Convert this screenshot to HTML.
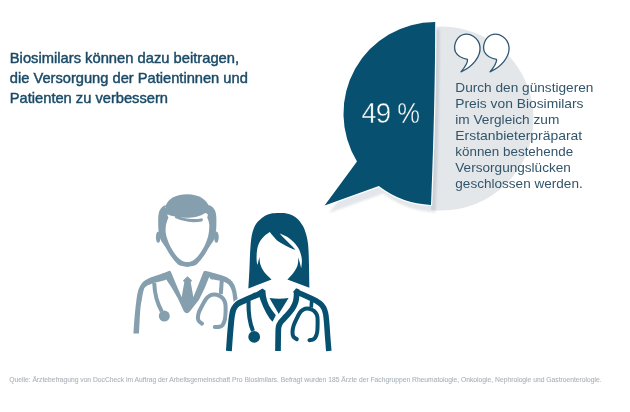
<!DOCTYPE html>
<html><head><meta charset="utf-8">
<style>
html,body{margin:0;padding:0;background:#fff;}
body{width:630px;height:412px;overflow:hidden;position:relative;}
svg{position:absolute;left:0;top:0;}
text{font-family:"Liberation Sans",sans-serif;}
</style></head>
<body>
<svg width="630" height="412" viewBox="0 0 630 412">
<defs>
  <filter id="sh" x="-20%" y="-20%" width="140%" height="140%">
    <feGaussianBlur stdDeviation="1.1"/>
  </filter>
  <clipPath id="rightof">
    <path d="M435.2 0 L630 0 L630 412 L431 412 L431 205 Q435.2 100 435.2 22 Z"/>
  </clipPath>
  <path id="bub" d="M435.2 22 A91.5 91.5 0 0 0 357 161.4 L324.6 205.5 L378.8 186 A91.5 91.5 0 0 0 431 204.9 Q435.2 100 435.2 22 Z"/>
</defs>

<!-- grey circle -->
<circle cx="441.5" cy="118.5" r="92" fill="#e4e7ea" clip-path="url(#rightof)"/>
<!-- shadow of dark bubble -->
<use href="#bub" transform="translate(4.5,7.5)" fill="#e3e6ea" filter="url(#sh)" style="mix-blend-mode:multiply"/>
<!-- white rim -->
<use href="#bub" fill="none" stroke="#fff" stroke-width="2.4" stroke-linejoin="round"/>
<!-- dark bubble -->
<use href="#bub" fill="#07506f"/>

<!-- 49 % -->
<g font-size="29.2" fill="#fff" stroke="#07506f" stroke-width="0.45">
  <text transform="translate(361.5 122.5) scale(0.925 1)">4</text>
  <text transform="translate(375.8 122.5) scale(0.95 1)">9</text>
  <text transform="translate(397.3 122.5) scale(0.875 1)">%</text>
</g>

<!-- quotes -->
<g fill="#fff" stroke="#2f5670" stroke-width="1.3" stroke-linejoin="round">
  <path id="q" d="M467.5 59.3 C463 58.5 458 57 455.5 52 C453 46 456 38 462 35 C470 32 479 38 480 47 C481 57 472 67 461 71.8 C465 67 468 63 467.5 59.3 Z"/>
  <use href="#q" x="29" y="0"/>
</g>

<!-- right text -->
<g font-size="13.6" fill="#31556a">
  <text x="455.3" y="92.30" textLength="138.1" lengthAdjust="spacingAndGlyphs">Durch den günstigeren</text>
  <text x="455.3" y="108.18" textLength="128.2" lengthAdjust="spacingAndGlyphs">Preis von Biosimilars</text>
  <text x="455.3" y="124.07" textLength="104" lengthAdjust="spacingAndGlyphs">im Vergleich zum</text>
  <text x="455.3" y="139.95" textLength="126.9" lengthAdjust="spacingAndGlyphs">Erstanbieterpräparat</text>
  <text x="455.3" y="155.83" textLength="117.8" lengthAdjust="spacingAndGlyphs">können bestehende</text>
  <text x="455.3" y="171.71" textLength="115.6" lengthAdjust="spacingAndGlyphs">Versorgungslücken</text>
  <text x="455.3" y="187.60" textLength="127.4" lengthAdjust="spacingAndGlyphs">geschlossen werden.</text>
</g>

<!-- title -->
<g font-size="14.5" fill="#1b4b67" stroke="#1b4b67" stroke-width="0.45">
  <text x="9.8" y="62.7" textLength="229.3" lengthAdjust="spacingAndGlyphs">Biosimilars können dazu beitragen,</text>
  <text x="9.8" y="82.8" textLength="238" lengthAdjust="spacingAndGlyphs">die Versorgung der Patientinnen und</text>
  <text x="9.8" y="102.7" textLength="158.2" lengthAdjust="spacingAndGlyphs">Patienten zu verbessern</text>
</g>

<!-- MALE doctor -->
<g fill="#859fae">
  <path d="M169.00 209.00 C162.40 208.37 167.13 205.55 166.00 205.20 C164.87 204.85 163.27 206.00 162.20 206.90 C161.13 207.80 160.23 209.17 159.60 210.60 C158.97 212.03 158.63 213.60 158.40 215.50 C158.17 217.40 158.17 219.42 158.20 222.00 C158.23 224.58 158.17 228.00 158.60 231.00 C159.03 234.00 159.70 237.38 160.80 240.00 C161.90 242.62 163.58 244.12 165.20 246.70 C166.82 249.28 168.45 252.62 170.50 255.50 C172.55 258.38 175.55 262.23 177.50 264.00 C179.45 265.77 180.57 265.62 182.20 266.10 C183.83 266.58 185.60 266.90 187.30 266.90 C189.00 266.90 190.77 266.58 192.40 266.10 C194.03 265.62 195.15 265.77 197.10 264.00 C199.05 262.23 202.05 258.38 204.10 255.50 C206.15 252.62 207.78 249.28 209.40 246.70 C211.02 244.12 212.70 242.62 213.80 240.00 C214.90 237.38 215.57 234.00 216.00 231.00 C216.43 228.00 216.37 224.58 216.40 222.00 C216.43 219.42 216.43 217.40 216.20 215.50 C215.97 213.60 215.63 212.03 215.00 210.60 C214.37 209.17 213.47 207.80 212.40 206.90 C211.33 206.00 209.73 204.85 208.60 205.20 C207.47 205.55 212.20 208.37 205.60 209.00 C199.00 209.63 175.60 209.63 169.00 209.00 Z"/>
  <path fill="#fff" d="M170.50 213.50 C164.50 214.33 169.02 216.25 168.30 218.00 C167.58 219.75 166.65 221.83 166.20 224.00 C165.75 226.17 165.47 228.67 165.60 231.00 C165.73 233.33 166.18 235.38 167.00 238.00 C167.82 240.62 168.97 243.78 170.50 246.70 C172.03 249.62 174.52 253.32 176.20 255.50 C177.88 257.68 179.33 258.80 180.60 259.80 C181.87 260.80 182.68 261.13 183.80 261.50 C184.92 261.87 186.13 262.00 187.30 262.00 C188.47 262.00 189.68 261.87 190.80 261.50 C191.92 261.13 192.73 260.80 194.00 259.80 C195.27 258.80 196.72 257.68 198.40 255.50 C200.08 253.32 202.57 249.62 204.10 246.70 C205.63 243.78 206.78 240.62 207.60 238.00 C208.42 235.38 208.73 233.33 209.00 231.00 C209.27 228.67 209.47 226.17 209.20 224.00 C208.93 221.83 208.22 219.83 207.40 218.00 C206.58 216.17 210.45 213.75 204.30 213.00 C198.15 212.25 176.50 212.67 170.50 213.50 Z"/>
  <path d="M165.5 206.2 C168 198.5 176.5 194.3 187.3 194.3 C198.5 194.3 206.5 199 210 208.2 L205.6 212.8 C200 216.6 193 217.8 187 217.8 C180 217.8 172 216.5 167 214 Z"/>
  <ellipse cx="158.2" cy="237.2" rx="2.3" ry="5.6"/>
  <ellipse cx="216.4" cy="237.2" rx="2.3" ry="5.6"/>
  <path d="M176.5 217 C183 220.4 194 221.4 201.3 219.9" fill="none" stroke="#859fae" stroke-width="3.1" stroke-linecap="round"/>
  <path d="M133.4 333.5 C133.60 330.75 134.13 322.25 134.60 317.00 C135.07 311.75 135.67 306.17 136.20 302.00 C136.73 297.83 137.10 294.75 137.80 292.00 C138.50 289.25 139.28 287.37 140.40 285.50 C141.52 283.63 142.57 282.22 144.50 280.80 C146.43 279.38 149.25 278.13 152.00 277.00 C154.75 275.87 158.07 275.03 161.00 274.00 C163.93 272.97 168.17 271.33 169.60 270.80 L170.8 271.6 L176 284 L181.7 297.2 L182.6 291.5 L184.3 282.4 L183 280.5 L187.5 276.3 L192 280.5 L190.7 282.4 L192.4 291.5 L193.3 297.2 L198.5 284.5 L203.6 271.6 L205.3 270.8 C206.87 271.22 211.52 272.40 214.70 273.30 C217.88 274.20 221.82 275.15 224.40 276.20 C226.98 277.25 228.58 278.23 230.20 279.60 C231.82 280.97 233.12 282.62 234.10 284.40 C235.08 286.18 235.53 288.03 236.10 290.30 C236.67 292.57 237.10 295.88 237.50 298.00 C237.90 300.12 238.17 300.67 238.50 303.00 C238.83 305.33 239.17 308.83 239.50 312.00 C239.83 315.17 240.33 320.33 240.50 322.00 L235.5 322 C235.35 320.00 234.83 312.87 234.60 310.00 C234.37 307.13 234.33 306.63 234.10 304.80 C233.87 302.97 233.52 301.10 233.20 299.00 C232.88 296.90 232.70 294.22 232.20 292.20 C231.70 290.18 231.17 288.43 230.20 286.90 C229.23 285.37 228.17 284.05 226.40 283.00 C224.63 281.95 222.25 281.23 219.60 280.60 C216.95 279.97 212.02 279.43 210.50 279.20 L209.3 276.8 L204.5 288.5 L199 299.7 L190 311.2 Q186.9 315.2 183.8 311.2 L177.9 298.4 L172 288.3 L166.3 279.4 C165.25 279.75 162.45 280.78 160.00 281.50 C157.55 282.22 153.93 282.88 151.60 283.70 C149.27 284.52 147.30 285.40 146.00 286.40 C144.70 287.40 144.48 287.62 143.80 289.70 C143.12 291.78 142.48 295.52 141.90 298.90 C141.32 302.28 140.78 304.23 140.30 310.00 C139.82 315.77 139.22 329.58 139.00 333.50 Z"/>
  <!-- stethoscope left -->
  <path fill="none" stroke="#859fae" stroke-width="4" d="M154.2 283 C154.6 293 156.5 302 161.8 311.5"/>
  <circle cx="164.3" cy="316.1" r="5.5"/>
  <!-- stethoscope right -->
  <path fill="none" stroke="#859fae" stroke-width="4" d="M221.8 280 L220.8 294"/>
  <path fill="none" stroke="#859fae" stroke-width="4" stroke-linecap="round" d="M202.00 323.60 C201.47 323.17 199.48 322.02 198.80 321.00 C198.12 319.98 197.87 319.00 197.90 317.50 C197.93 316.00 198.23 314.08 199.00 312.00 C199.77 309.92 201.33 307.17 202.50 305.00 C203.67 302.83 204.75 300.57 206.00 299.00 C207.25 297.43 208.65 296.33 210.00 295.60 C211.35 294.87 212.60 294.60 214.10 294.60 C215.60 294.60 217.52 294.93 219.00 295.60 C220.48 296.27 221.95 297.28 223.00 298.60 C224.05 299.92 224.87 301.43 225.30 303.50 C225.73 305.57 225.65 308.42 225.60 311.00 C225.55 313.58 225.47 316.70 225.00 319.00 C224.53 321.30 223.72 323.50 222.80 324.80 C221.88 326.10 220.83 326.43 219.50 326.80 C218.17 327.17 215.58 326.97 214.80 327.00"/>
</g>

<!-- FEMALE doctor -->
<path d="M227 351 L229 318 C231.5 308 234 303 240 300 L262 289 L297 289 L319 300 C325 303 328 308 328.5 318 L329.5 351 Z" fill="#fff"/>
<path d="M248.40 288.40 C248.57 285.33 249.13 275.57 249.40 270.00 C249.67 264.43 249.83 258.67 250.00 255.00 C250.17 251.33 250.22 250.50 250.40 248.00 C250.58 245.50 250.70 242.78 251.10 240.00 C251.50 237.22 251.90 234.08 252.80 231.30 C253.70 228.52 254.75 225.70 256.50 223.30 C258.25 220.90 260.97 218.48 263.30 216.90 C265.63 215.32 267.80 214.43 270.50 213.80 C273.20 213.17 276.45 213.07 279.50 213.10 C282.55 213.13 285.88 213.10 288.80 214.00 C291.72 214.90 294.70 216.58 297.00 218.50 C299.30 220.42 301.13 223.05 302.60 225.50 C304.07 227.95 304.97 230.62 305.80 233.20 C306.63 235.78 307.15 238.20 307.60 241.00 C308.05 243.80 308.27 246.00 308.50 250.00 C308.73 254.00 308.85 258.70 309.00 265.00 C309.15 271.30 309.33 284.00 309.40 287.80 L287.4 279.5 C288.35 278.47 291.42 275.63 293.10 273.30 C294.78 270.97 296.62 268.12 297.50 265.50 C298.38 262.88 298.25 258.92 298.40 257.60 L301.2 268.3 C301.32 266.95 302.02 262.72 301.90 260.20 C301.78 257.68 301.15 255.32 300.50 253.20 C299.85 251.08 299.28 249.48 298.00 247.50 C296.72 245.52 294.68 243.13 292.80 241.30 C290.92 239.47 288.88 237.82 286.70 236.50 C284.52 235.18 280.87 233.92 279.70 233.40 C280.72 234.50 283.75 237.88 285.80 240.00 C287.85 242.12 290.42 244.47 292.00 246.10 C293.58 247.73 294.75 249.18 295.30 249.80 C294.30 249.40 291.32 248.32 289.30 247.40 C287.28 246.48 285.23 245.47 283.20 244.30 C281.17 243.13 278.85 241.85 277.10 240.40 C275.35 238.95 273.93 236.98 272.70 235.60 C271.47 234.22 270.20 232.68 269.70 232.10 C268.82 232.75 265.93 234.60 264.40 236.00 C262.87 237.40 261.60 238.77 260.50 240.50 C259.40 242.23 258.43 244.17 257.80 246.40 C257.17 248.63 256.88 251.40 256.70 253.90 C256.52 256.40 256.55 259.58 256.70 261.40 C256.85 263.22 257.45 264.23 257.60 264.80 L259.4 257.1 C259.57 258.35 259.60 262.12 260.40 264.60 C261.20 267.08 262.33 269.52 264.20 272.00 C266.07 274.48 270.37 278.25 271.60 279.50 Z" fill="#fff" stroke="#fff" stroke-width="2.6" stroke-linejoin="round"/>
<path d="M228.90 351.00 C229.05 348.83 229.48 342.17 229.80 338.00 C230.12 333.83 230.45 329.67 230.80 326.00 C231.15 322.33 231.43 318.83 231.90 316.00 C232.37 313.17 232.67 311.00 233.60 309.00 C234.53 307.00 235.68 305.42 237.50 304.00 C239.32 302.58 241.92 301.73 244.50 300.50 C247.08 299.27 249.92 297.95 253.00 296.60 C256.08 295.25 261.33 293.10 263.00 292.40" fill="none" stroke="#fff" stroke-width="8.5" stroke-linecap="butt" stroke-linejoin="miter"/>
<path d="M296.00 291.60 C298.50 292.70 307.03 296.27 311.00 298.20 C314.97 300.13 317.68 301.60 319.80 303.20 C321.92 304.80 322.73 306.08 323.70 307.80 C324.67 309.52 325.12 311.13 325.60 313.50 C326.08 315.87 326.27 318.25 326.60 322.00 C326.93 325.75 327.23 331.17 327.60 336.00 C327.97 340.83 328.60 348.50 328.80 351.00" fill="none" stroke="#fff" stroke-width="8.1" stroke-linecap="butt" stroke-linejoin="miter"/>
<path d="M257.6 291.6 L262.4 288.4 L265.4 290.4 C265.6 297 267.5 304 271.5 309.5 L275.8 315.2 L272.6 321.8 L269.6 318.6 C265 312 261 303 257.6 291.6 Z" fill="#fff" stroke="#fff" stroke-width="2.6" stroke-linejoin="round"/>
<path d="M293.7 293 L293.7 291.2 L296.1 288.2 L299.4 289.4 L299.4 293 Z" fill="#fff" stroke="#fff" stroke-width="2.6" stroke-linejoin="round"/>
<path d="M296.50 291.50 C296.52 292.08 296.75 293.25 296.60 295.00 C296.45 296.75 296.33 299.67 295.60 302.00 C294.87 304.33 293.77 306.63 292.20 309.00 C290.63 311.37 288.13 313.98 286.20 316.20 C284.27 318.42 281.87 320.50 280.60 322.30 C279.33 324.10 279.00 324.88 278.60 327.00 C278.20 329.12 278.30 331.00 278.20 335.00 C278.10 339.00 278.03 348.33 278.00 351.00" fill="none" stroke="#fff" stroke-width="8.3" stroke-linecap="butt" stroke-linejoin="miter"/>
<path d="M269.5 297.9 C276 299 282 299 288.6 297.9 L278.7 313.9 C276 309 273 304 269.5 297.9 Z" fill="#fff" stroke="#fff" stroke-width="2.6" stroke-linejoin="round"/>
<path d="M248.5 301 C248.3 313 249.5 323 253 331" fill="none" stroke="#fff" stroke-width="6.699999999999999" stroke-linecap="butt" stroke-linejoin="miter"/>
<circle cx="254.2" cy="336.9" r="7.2" fill="#fff"/>
<path d="M311.8 299.5 L311.2 307.5" fill="none" stroke="#fff" stroke-width="6.2" stroke-linecap="butt" stroke-linejoin="miter"/>
<path d="M296.80 339.20 C296.22 338.75 294.02 337.70 293.30 336.50 C292.58 335.30 292.47 333.75 292.50 332.00 C292.53 330.25 292.83 328.17 293.50 326.00 C294.17 323.83 295.42 321.25 296.50 319.00 C297.58 316.75 298.83 314.08 300.00 312.50 C301.17 310.92 302.33 310.15 303.50 309.50 C304.67 308.85 305.67 308.60 307.00 308.60 C308.33 308.60 310.08 308.85 311.50 309.50 C312.92 310.15 314.52 311.25 315.50 312.50 C316.48 313.75 317.05 315.08 317.40 317.00 C317.75 318.92 317.63 321.50 317.60 324.00 C317.57 326.50 317.58 329.73 317.20 332.00 C316.82 334.27 316.00 336.35 315.30 337.60 C314.60 338.85 313.97 339.07 313.00 339.50 C312.03 339.93 310.08 340.08 309.50 340.20" fill="none" stroke="#fff" stroke-width="6.6" stroke-linecap="round" stroke-linejoin="miter"/>
<path d="M248.40 288.40 C248.57 285.33 249.13 275.57 249.40 270.00 C249.67 264.43 249.83 258.67 250.00 255.00 C250.17 251.33 250.22 250.50 250.40 248.00 C250.58 245.50 250.70 242.78 251.10 240.00 C251.50 237.22 251.90 234.08 252.80 231.30 C253.70 228.52 254.75 225.70 256.50 223.30 C258.25 220.90 260.97 218.48 263.30 216.90 C265.63 215.32 267.80 214.43 270.50 213.80 C273.20 213.17 276.45 213.07 279.50 213.10 C282.55 213.13 285.88 213.10 288.80 214.00 C291.72 214.90 294.70 216.58 297.00 218.50 C299.30 220.42 301.13 223.05 302.60 225.50 C304.07 227.95 304.97 230.62 305.80 233.20 C306.63 235.78 307.15 238.20 307.60 241.00 C308.05 243.80 308.27 246.00 308.50 250.00 C308.73 254.00 308.85 258.70 309.00 265.00 C309.15 271.30 309.33 284.00 309.40 287.80 L287.4 279.5 C288.35 278.47 291.42 275.63 293.10 273.30 C294.78 270.97 296.62 268.12 297.50 265.50 C298.38 262.88 298.25 258.92 298.40 257.60 L301.2 268.3 C301.32 266.95 302.02 262.72 301.90 260.20 C301.78 257.68 301.15 255.32 300.50 253.20 C299.85 251.08 299.28 249.48 298.00 247.50 C296.72 245.52 294.68 243.13 292.80 241.30 C290.92 239.47 288.88 237.82 286.70 236.50 C284.52 235.18 280.87 233.92 279.70 233.40 C280.72 234.50 283.75 237.88 285.80 240.00 C287.85 242.12 290.42 244.47 292.00 246.10 C293.58 247.73 294.75 249.18 295.30 249.80 C294.30 249.40 291.32 248.32 289.30 247.40 C287.28 246.48 285.23 245.47 283.20 244.30 C281.17 243.13 278.85 241.85 277.10 240.40 C275.35 238.95 273.93 236.98 272.70 235.60 C271.47 234.22 270.20 232.68 269.70 232.10 C268.82 232.75 265.93 234.60 264.40 236.00 C262.87 237.40 261.60 238.77 260.50 240.50 C259.40 242.23 258.43 244.17 257.80 246.40 C257.17 248.63 256.88 251.40 256.70 253.90 C256.52 256.40 256.55 259.58 256.70 261.40 C256.85 263.22 257.45 264.23 257.60 264.80 L259.4 257.1 C259.57 258.35 259.60 262.12 260.40 264.60 C261.20 267.08 262.33 269.52 264.20 272.00 C266.07 274.48 270.37 278.25 271.60 279.50 Z" fill="#07506f"/>
<path d="M228.90 351.00 C229.05 348.83 229.48 342.17 229.80 338.00 C230.12 333.83 230.45 329.67 230.80 326.00 C231.15 322.33 231.43 318.83 231.90 316.00 C232.37 313.17 232.67 311.00 233.60 309.00 C234.53 307.00 235.68 305.42 237.50 304.00 C239.32 302.58 241.92 301.73 244.50 300.50 C247.08 299.27 249.92 297.95 253.00 296.60 C256.08 295.25 261.33 293.10 263.00 292.40" fill="none" stroke="#07506f" stroke-width="5.9" stroke-linecap="butt" stroke-linejoin="miter"/>
<path d="M296.00 291.60 C298.50 292.70 307.03 296.27 311.00 298.20 C314.97 300.13 317.68 301.60 319.80 303.20 C321.92 304.80 322.73 306.08 323.70 307.80 C324.67 309.52 325.12 311.13 325.60 313.50 C326.08 315.87 326.27 318.25 326.60 322.00 C326.93 325.75 327.23 331.17 327.60 336.00 C327.97 340.83 328.60 348.50 328.80 351.00" fill="none" stroke="#07506f" stroke-width="5.5" stroke-linecap="butt" stroke-linejoin="miter"/>
<path d="M257.6 291.6 L262.4 288.4 L265.4 290.4 C265.6 297 267.5 304 271.5 309.5 L275.8 315.2 L272.6 321.8 L269.6 318.6 C265 312 261 303 257.6 291.6 Z" fill="#07506f"/>
<path d="M293.7 293 L293.7 291.2 L296.1 288.2 L299.4 289.4 L299.4 293 Z" fill="#07506f"/>
<path d="M296.50 291.50 C296.52 292.08 296.75 293.25 296.60 295.00 C296.45 296.75 296.33 299.67 295.60 302.00 C294.87 304.33 293.77 306.63 292.20 309.00 C290.63 311.37 288.13 313.98 286.20 316.20 C284.27 318.42 281.87 320.50 280.60 322.30 C279.33 324.10 279.00 324.88 278.60 327.00 C278.20 329.12 278.30 331.00 278.20 335.00 C278.10 339.00 278.03 348.33 278.00 351.00" fill="none" stroke="#07506f" stroke-width="5.7" stroke-linecap="butt" stroke-linejoin="miter"/>
<path d="M269.5 297.9 C276 299 282 299 288.6 297.9 L278.7 313.9 C276 309 273 304 269.5 297.9 Z" fill="#07506f"/>
<path d="M248.5 301 C248.3 313 249.5 323 253 331" fill="none" stroke="#07506f" stroke-width="4.1" stroke-linecap="butt" stroke-linejoin="miter"/>
<circle cx="254.2" cy="336.9" r="5.9" fill="#07506f"/>
<path d="M311.8 299.5 L311.2 307.5" fill="none" stroke="#07506f" stroke-width="3.6" stroke-linecap="butt" stroke-linejoin="miter"/>
<path d="M296.80 339.20 C296.22 338.75 294.02 337.70 293.30 336.50 C292.58 335.30 292.47 333.75 292.50 332.00 C292.53 330.25 292.83 328.17 293.50 326.00 C294.17 323.83 295.42 321.25 296.50 319.00 C297.58 316.75 298.83 314.08 300.00 312.50 C301.17 310.92 302.33 310.15 303.50 309.50 C304.67 308.85 305.67 308.60 307.00 308.60 C308.33 308.60 310.08 308.85 311.50 309.50 C312.92 310.15 314.52 311.25 315.50 312.50 C316.48 313.75 317.05 315.08 317.40 317.00 C317.75 318.92 317.63 321.50 317.60 324.00 C317.57 326.50 317.58 329.73 317.20 332.00 C316.82 334.27 316.00 336.35 315.30 337.60 C314.60 338.85 313.97 339.07 313.00 339.50 C312.03 339.93 310.08 340.08 309.50 340.20" fill="none" stroke="#07506f" stroke-width="4.0" stroke-linecap="round" stroke-linejoin="miter"/>
<!-- footer -->
<text x="9.2" y="381.7" font-size="6.7" fill="#aab4bc" stroke="#aab4bc" stroke-width="0.1" textLength="592.5" lengthAdjust="spacingAndGlyphs">Quelle: Ärztebefragung von DocCheck im Auftrag der Arbeitsgemeinschaft Pro Biosimilars. Befragt wurden 185 Ärzte der Fachgruppen Rheumatologie, Onkologie, Nephrologie und Gastroenterologie.</text>
</svg>
</body></html>
